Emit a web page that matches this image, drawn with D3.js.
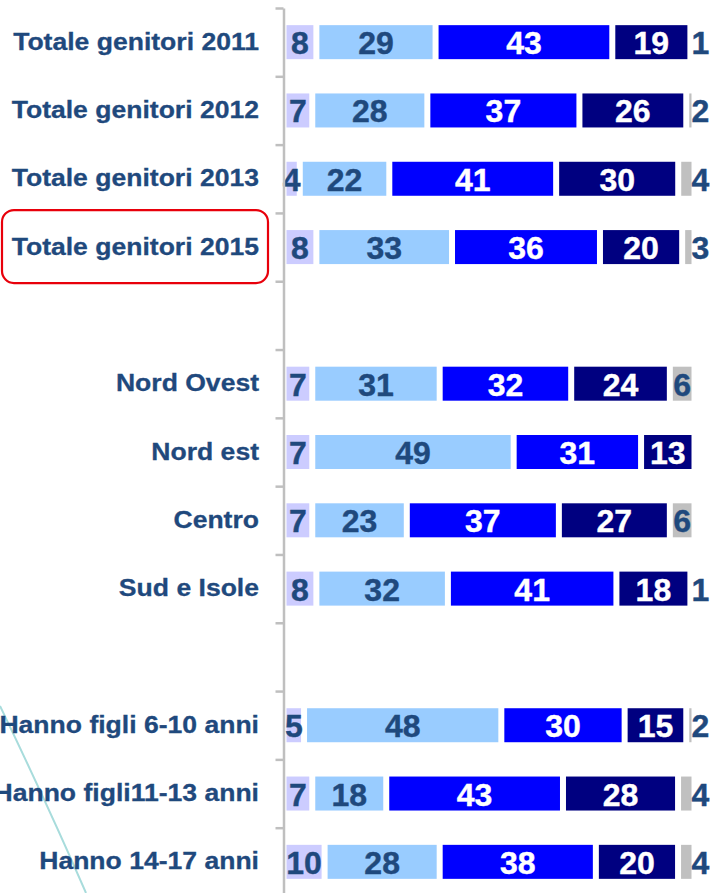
<!DOCTYPE html>
<html>
<head>
<meta charset="utf-8">
<script src="https://cdn.jsdelivr.net/npm/d3@7"></script>
<style>
  html, body { margin: 0; padding: 0; background: #fff; }
  svg { display: block; }
</style>
</head>
<body>
<div id="chart"></div>
<script>
// rows of the chart, "" = empty spacer row
const categories = [
  "Totale genitori 2011", "Totale genitori 2012", "Totale genitori 2013", "Totale genitori 2015",
  "",
  "Nord Ovest", "Nord est", "Centro", "Sud e Isole",
  "",
  "Hanno figli 6-10 anni", "Hanno figli11-13 anni", "Hanno 14-17 anni"
];
const highlighted = "Totale genitori 2015";

// values per segment, left to right
const seg1 = [8, 7, 4, 8, null, 7, 7, 7, 8, null, 5, 7, 10];
const seg2 = [29, 28, 22, 33, null, 31, 49, 23, 32, null, 48, 18, 28];
const seg3 = [43, 37, 41, 36, null, 32, 31, 37, 41, null, 30, 43, 38];
const seg4 = [19, 26, 30, 20, null, 24, 13, 27, 18, null, 15, 28, 20];
const seg5 = [1, 2, 4, 3, null, 6, 0, 6, 1, null, 2, 4, 4];

const segColors = ["#CCCCFF", "#99CCFF", "#0000FF", "#000080", "#C0C0C0"];
const labelColors = ["#1F497D", "#1F497D", "#ffffff", "#ffffff", "#1F497D"];
const textColor = "#1F497D";

const width = 716, height = 893;
const axisX = 283.5;

const svg = d3.select("#chart").append("svg")
  .attr("width", width)
  .attr("height", height);

const x = d3.scaleLinear().domain([0, 100]).range([axisX, 694.5]);
const y = d3.scaleBand().domain(d3.range(categories.length)).range([8, 896]).padding(0);
const tickY = d3.scaleLinear().domain([0, categories.length]).range([8, 896]);

const barH = 34;
const gap = 3; // white gap on each side of a segment

// decorative teal curve
svg.append("path")
  .attr("d", "M0,706 Q50,810 86,893")
  .attr("fill", "none")
  .attr("stroke", "#A8DCDC")
  .attr("stroke-width", 2);

// build stacked rows, normalised to 100%
const rows = categories.map((c, i) => {
  if (seg1[i] == null) return null;
  const vals = [seg1[i], seg2[i], seg3[i], seg4[i], seg5[i]];
  const total = d3.sum(vals);
  let acc = 0;
  const parts = vals.map((v, k) => {
    const x0 = acc / total * 100;
    acc += v;
    return { k, v, x0, x1: acc / total * 100 };
  });
  return { i, c, parts };
}).filter(d => d);

const rowG = svg.selectAll(".row")
  .data(rows)
  .join("g")
  .attr("class", "row")
  .attr("transform", d => `translate(0, ${y(d.i) + y.bandwidth() / 2})`);

rowG.selectAll("rect")
  .data(d => d.parts.filter(p => p.v > 0))
  .join("rect")
  .attr("x", p => x(p.x0) + gap)
  .attr("y", -barH / 2)
  .attr("width", p => Math.max(0, x(p.x1) - x(p.x0) - 2 * gap))
  .attr("height", barH)
  .attr("fill", p => segColors[p.k]);

rowG.selectAll("text.val")
  .data(d => d.parts.filter(p => p.v > 0))
  .join("text")
  .attr("class", "val")
  .attr("x", p => (p.k === 4 && p.v < 5) ? x(100) - 3 : (x(p.x0) + x(p.x1)) / 2)
  .attr("y", 12)
  .attr("text-anchor", p => (p.k === 4 && p.v < 5) ? "start" : "middle")
  .attr("font-family", "Liberation Sans, Arial, sans-serif")
  .attr("font-weight", "bold")
  .attr("font-size", "32px")
  .attr("stroke", p => labelColors[p.k])
  .attr("stroke-width", 0.4)
  .attr("fill", p => labelColors[p.k])
  .text(p => p.v);

// category labels
svg.selectAll(".cat")
  .data(rows)
  .join("text")
  .attr("class", "cat")
  .attr("transform", d => `translate(259, ${y(d.i) + y.bandwidth() / 2 + 7.5}) scale(1.13, 1)`)
  .attr("text-anchor", "end")
  .attr("font-family", "Liberation Sans, Arial, sans-serif")
  .attr("font-weight", "bold")
  .attr("font-size", "23.5px")
  .attr("stroke", textColor)
  .attr("stroke-width", 0.3)
  .attr("fill", textColor)
  .text(d => d.c);

// highlight box
const hi = categories.indexOf(highlighted);
svg.append("rect")
  .attr("x", 2)
  .attr("y", y(hi) + y.bandwidth() / 2 - 37)
  .attr("width", 266)
  .attr("height", 73)
  .attr("rx", 12)
  .attr("fill", "none")
  .attr("stroke", "#E8000B")
  .attr("stroke-width", 2.2);

// vertical axis with ticks between rows
const axis = d3.axisLeft(tickY)
  .tickValues(d3.range(categories.length + 1))
  .tickSize(8)
  .tickSizeOuter(0)
  .tickFormat("");

const axG = svg.append("g")
  .attr("transform", `translate(${axisX}, 0)`)
  .call(axis);
axG.selectAll("path, line")
  .attr("stroke", "#BFBFBF")
  .attr("stroke-width", 2.5);
</script>
</body>
</html>
